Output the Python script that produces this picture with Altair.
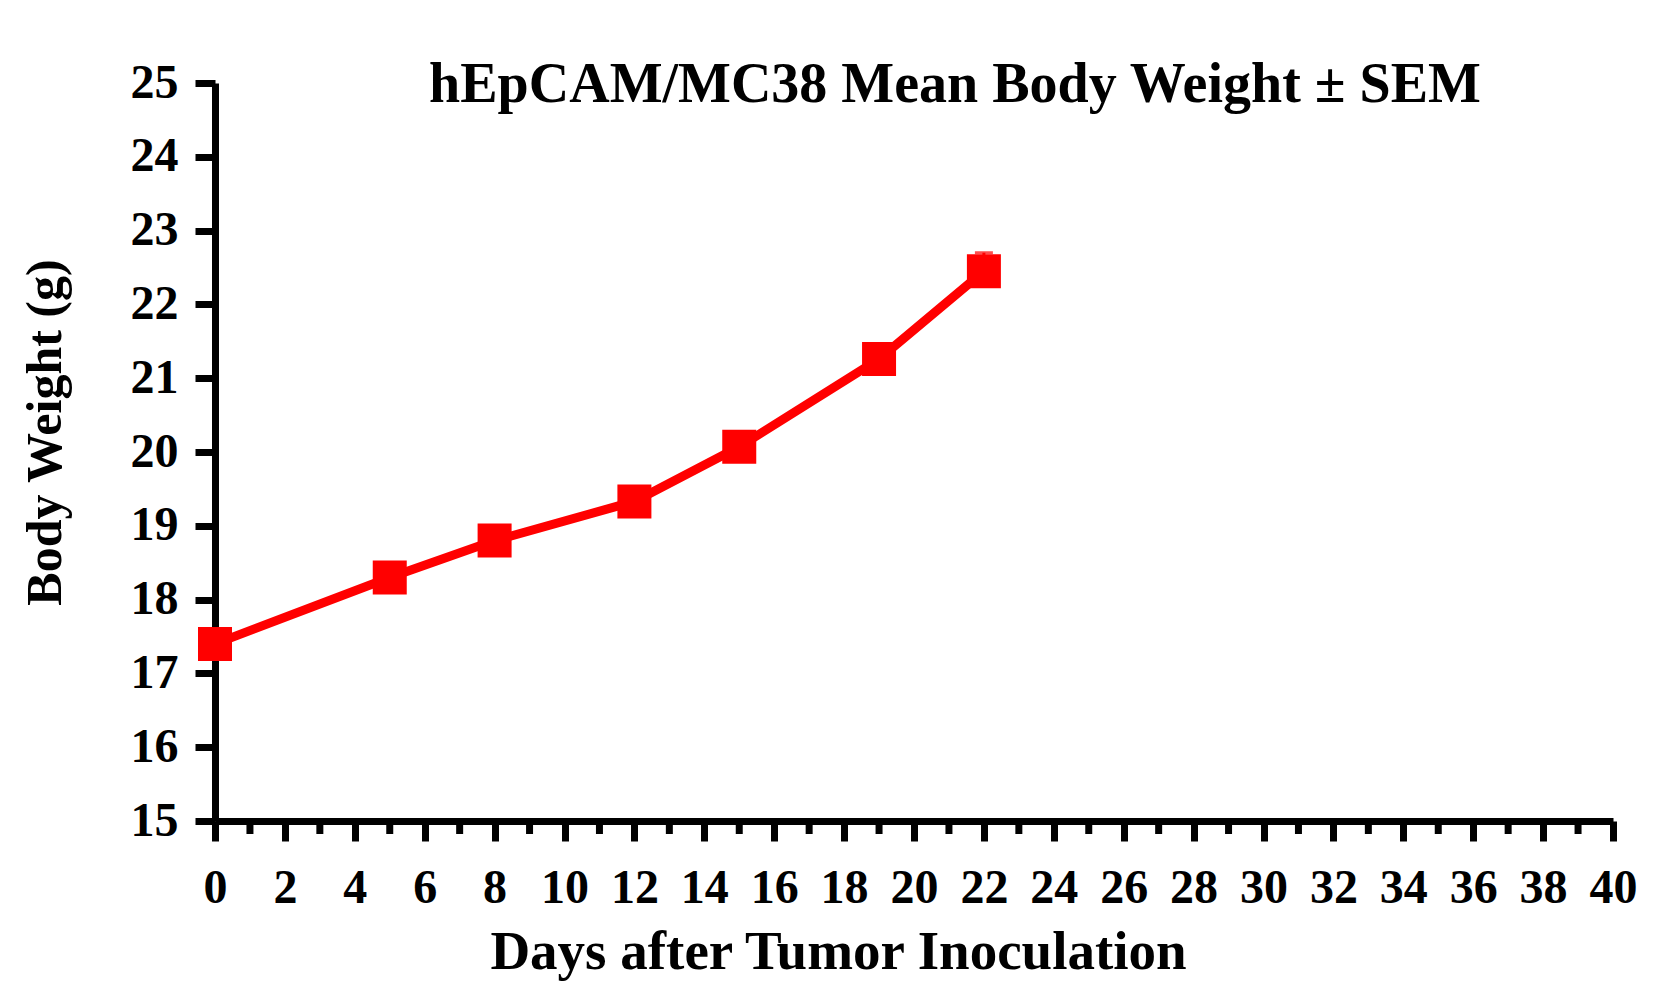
import altair as alt
import pandas as pd

days = [0, 5, 8, 12, 15, 19, 22]
weight = [17.4, 18.3, 18.8, 19.33, 20.07, 21.26, 22.45]
sem = [0.12, 0.14, 0.15, 0.16, 0.18, 0.2, 0.25]

major_x_ticks = list(range(0, 41, 2))
minor_x_ticks = list(range(1, 40, 2))
y_ticks = list(range(15, 26))

df = pd.DataFrame({"day": days, "weight": weight, "sem": sem})
df["hi"] = df["weight"] + df["sem"]
minor_df = pd.DataFrame({"tick": minor_x_ticks})

FONT = "Liberation Serif"
RED = "#FF0000"

x_scale = alt.Scale(domain=[0, 40], nice=False, zero=False)
y_scale = alt.Scale(domain=[15, 25], nice=False, zero=False)

x_axis = alt.Axis(
    title="Days after Tumor Inoculation",
    values=major_x_ticks,
    format="d",
    tickSize=20,
    tickWidth=7,
    tickColor="black",
    domainColor="black",
    domainWidth=7,
    labelFont=FONT,
    labelFontWeight="bold",
    labelFontSize=48,
    labelColor="black",
    labelPadding=23,
    labelFlush=False,
    labelOverlap=False,
    grid=False,
    titleFont=FONT,
    titleFontWeight="bold",
    titleFontSize=55,
    titleColor="black",
    titleX=623,
    titleY=147,
    titleAlign="center",
    titleBaseline="alphabetic",
)

y_axis = alt.Axis(
    title="Body Weight (g)",
    values=y_ticks,
    format="d",
    tickSize=20,
    tickWidth=7,
    tickColor="black",
    domainColor="black",
    domainWidth=7,
    labelFont=FONT,
    labelFontWeight="bold",
    labelFontSize=48,
    labelColor="black",
    labelPadding=17,
    labelFlush=False,
    labelOverlap=False,
    grid=False,
    titleFont=FONT,
    titleFontWeight="bold",
    titleFontSize=50,
    titleColor="black",
    titleAngle=270,
    titleX=-155,
    titleY=349,
    titleAlign="center",
    titleBaseline="alphabetic",
)

base = alt.Chart(df)

line = base.mark_line(color=RED, strokeWidth=9).encode(
    x=alt.X("day:Q", scale=x_scale, axis=x_axis),
    y=alt.Y("weight:Q", scale=y_scale, axis=y_axis),
)

bars = base.mark_rule(color=RED, strokeWidth=3).encode(
    x="day:Q",
    y="weight:Q",
    y2="hi:Q",
)

caps = base.mark_tick(color=RED, thickness=3, size=18, orient="horizontal").encode(
    x="day:Q",
    y="hi:Q",
)

points = base.mark_square(color=RED, size=1156, opacity=1, filled=True).encode(
    x="day:Q",
    y="weight:Q",
)

minor = alt.Chart(minor_df).mark_tick(
    color="black", orient="vertical", size=13, thickness=7, yOffset=6.5, opacity=1
).encode(
    x="tick:Q",
    y=alt.datum(15),
)

chart = (
    alt.layer(line, minor, bars, caps, points)
    .properties(
        width=1398,
        height=738,
        background="white",
        autosize=alt.AutoSizeParams(type="none"),
        padding={"left": 207, "top": 75, "right": 50, "bottom": 160},
        title=alt.TitleParams(
            text="hEpCAM/MC38 Mean Body Weight \u00b1 SEM",
            font=FONT,
            fontWeight="bold",
            fontSize=56,
            color="black",
            anchor="middle",
            dx=41,
            dy=59,
        ),
    )
    .configure_view(stroke=None, strokeWidth=0)
)

chart.save("out.html", embed_options={"renderer": "svg", "actions": False})
